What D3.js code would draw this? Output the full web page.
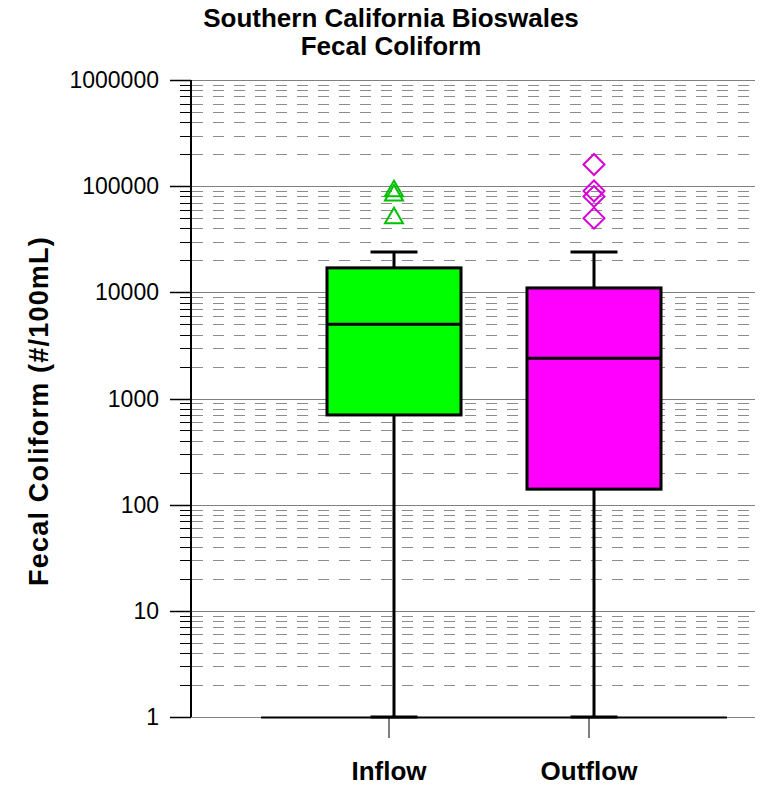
<!DOCTYPE html>
<html>
<head>
<meta charset="utf-8">
<script src="https://cdn.jsdelivr.net/npm/d3@7"></script>
<style>
  body { margin: 0; background: #fff; }
  text { font-family: "Liberation Sans", Arial, sans-serif; }
</style>
</head>
<body>
<svg id="chart" width="764" height="786"></svg>
<script>
// data
const categories = ["Inflow", "Outflow"];
const whiskerLow = [1, 1];
const q1 = [700, 140];
const median = [5000, 2400];
const q3 = [17000, 11000];
const whiskerHigh = [24000, 24000];
const outliersInflow = [90000, 82000, 50000];
const outliersOutflow = [160000, 90000, 80000, 50000];
const yTicks = [1, 10, 100, 1000, 10000, 100000, 1000000];

const boxColors = ["#00ff00", "#ff00ff"];
const outlierColors = ["#00c000", "#d800d8"];

const svg = d3.select("#chart");

const plot = { left: 191, right: 755, top: 80, bottom: 717 };

const y = d3.scaleLog()
    .domain([1, 1000000])
    .range([plot.bottom, plot.top]);

const x = d3.scaleBand()
    .domain(categories)
    .range([261, 727])
    .paddingInner(0.33)
    .paddingOuter(0.33);

/* ---------------------------
   Grid
--------------------------- */
const minorVals = [];
yTicks.slice(0, -1).forEach(d => {
    for (let k = 2; k <= 9; k++) minorVals.push(d * k);
});

svg.append("g")
    .selectAll("line")
    .data(minorVals)
    .enter()
    .append("line")
    .attr("x1", plot.left + 1)
    .attr("x2", plot.right)
    .attr("y1", d => Math.round(y(d)) + 0.5)
    .attr("y2", d => Math.round(y(d)) + 0.5)
    .attr("stroke", "#8c8c8c")
    .attr("stroke-width", 1)
    .attr("stroke-dasharray", "11,10");

// minor ticks
svg.append("g")
    .selectAll("line")
    .data(minorVals)
    .enter()
    .append("line")
    .attr("x1", 180)
    .attr("x2", plot.left)
    .attr("y1", d => Math.round(y(d)) + 0.5)
    .attr("y2", d => Math.round(y(d)) + 0.5)
    .attr("stroke", "#000")
    .attr("stroke-width", 1);

// major gridlines
svg.append("g")
    .selectAll("line")
    .data(yTicks)
    .enter()
    .append("line")
    .attr("x1", 170)
    .attr("x2", plot.right)
    .attr("y1", d => Math.round(y(d)) + 0.5)
    .attr("y2", d => Math.round(y(d)) + 0.5)
    .attr("stroke", "#808080")
    .attr("stroke-width", 1.2);

// major ticks
svg.append("g")
    .selectAll("line")
    .data(yTicks)
    .enter()
    .append("line")
    .attr("x1", 170)
    .attr("x2", plot.left)
    .attr("y1", d => Math.round(y(d)) + 0.5)
    .attr("y2", d => Math.round(y(d)) + 0.5)
    .attr("stroke", "#000")
    .attr("stroke-width", 1.5);

// tick labels
svg.append("g")
    .selectAll("text")
    .data(yTicks)
    .enter()
    .append("text")
    .attr("x", 159)
    .attr("y", d => y(d))
    .attr("dy", "0.35em")
    .attr("text-anchor", "end")
    .attr("font-size", "23px")
    .attr("fill", "#000")
    .text(d => d3.format("d")(d));

/* ---------------------------
   Axes lines
--------------------------- */
svg.append("line")
    .attr("x1", plot.left).attr("x2", plot.left)
    .attr("y1", plot.top).attr("y2", plot.bottom)
    .attr("stroke", "#000").attr("stroke-width", 2);

svg.append("line")
    .attr("x1", x.range()[0]).attr("x2", x.range()[1])
    .attr("y1", plot.bottom + 0.5).attr("y2", plot.bottom + 0.5)
    .attr("stroke", "#000").attr("stroke-width", 2);

const labelShift = -5;
svg.append("g")
    .selectAll("line")
    .data(categories)
    .enter()
    .append("line")
    .attr("x1", d => x(d) + x.bandwidth() / 2 + labelShift)
    .attr("x2", d => x(d) + x.bandwidth() / 2 + labelShift)
    .attr("y1", plot.bottom)
    .attr("y2", plot.bottom + 21)
    .attr("stroke", "#000")
    .attr("stroke-width", 1);

svg.append("g")
    .selectAll("text")
    .data(categories)
    .enter()
    .append("text")
    .attr("x", d => x(d) + x.bandwidth() / 2 + labelShift)
    .attr("y", 780)
    .attr("text-anchor", "middle")
    .attr("font-size", "26px")
    .attr("font-weight", "bold")
    .text(d => d);

/* ---------------------------
   Boxes
--------------------------- */
const boxes = categories.map((c, i) => ({
    name: c, lo: whiskerLow[i], q1: q1[i], med: median[i], q3: q3[i], hi: whiskerHigh[i],
    color: boxColors[i]
}));

const capW = 47;
const bg = svg.append("g");

boxes.forEach(b => {
    const cx = x(b.name) + x.bandwidth() / 2;
    // whiskers
    bg.append("line")
        .attr("x1", cx).attr("x2", cx)
        .attr("y1", y(b.q3)).attr("y2", y(b.hi))
        .attr("stroke", "#000").attr("stroke-width", 3);
    bg.append("line")
        .attr("x1", cx).attr("x2", cx)
        .attr("y1", y(b.q1)).attr("y2", y(b.lo))
        .attr("stroke", "#000").attr("stroke-width", 3);
    // caps
    [b.hi, b.lo].forEach(v => {
        bg.append("line")
            .attr("x1", cx - capW / 2).attr("x2", cx + capW / 2)
            .attr("y1", y(v)).attr("y2", y(v))
            .attr("stroke", "#000").attr("stroke-width", 3);
    });
    // box
    bg.append("rect")
        .attr("x", x(b.name))
        .attr("y", y(b.q3))
        .attr("width", x.bandwidth())
        .attr("height", y(b.q1) - y(b.q3))
        .attr("fill", b.color)
        .attr("stroke", "#000")
        .attr("stroke-width", 3);
    // median
    bg.append("line")
        .attr("x1", x(b.name)).attr("x2", x(b.name) + x.bandwidth())
        .attr("y1", y(b.med)).attr("y2", y(b.med))
        .attr("stroke", "#000").attr("stroke-width", 3);
});

/* ---------------------------
   Outliers
--------------------------- */
const tri = d3.symbol().type(d3.symbolTriangle).size(140);
const sq = d3.symbol().type(d3.symbolSquare).size(220);

svg.append("g")
    .selectAll("path")
    .data(outliersInflow)
    .enter()
    .append("path")
    .attr("d", tri)
    .attr("transform", d => `translate(${x("Inflow") + x.bandwidth() / 2},${y(d)})`)
    .attr("fill", "none")
    .attr("stroke", outlierColors[0])
    .attr("stroke-width", 2);

svg.append("g")
    .selectAll("path")
    .data(outliersOutflow)
    .enter()
    .append("path")
    .attr("d", sq)
    .attr("transform", d => `translate(${x("Outflow") + x.bandwidth() / 2},${y(d)}) rotate(45)`)
    .attr("fill", "none")
    .attr("stroke", outlierColors[1])
    .attr("stroke-width", 2);

/* ---------------------------
   Titles
--------------------------- */
svg.append("text")
    .attr("x", 391).attr("y", 27)
    .attr("text-anchor", "middle")
    .attr("font-size", "26px")
    .attr("font-weight", "bold")
    .text("Southern California Bioswales");

svg.append("text")
    .attr("x", 391).attr("y", 55)
    .attr("text-anchor", "middle")
    .attr("font-size", "26px")
    .attr("font-weight", "bold")
    .text("Fecal Coliform");

svg.append("text")
    .attr("transform", "translate(48,411) rotate(-90)")
    .attr("text-anchor", "middle")
    .attr("font-size", "27px")
    .attr("font-weight", "bold")
    .attr("letter-spacing", "1.2px")
    .text("Fecal Coliform (#/100mL)");
</script>
</body>
</html>
